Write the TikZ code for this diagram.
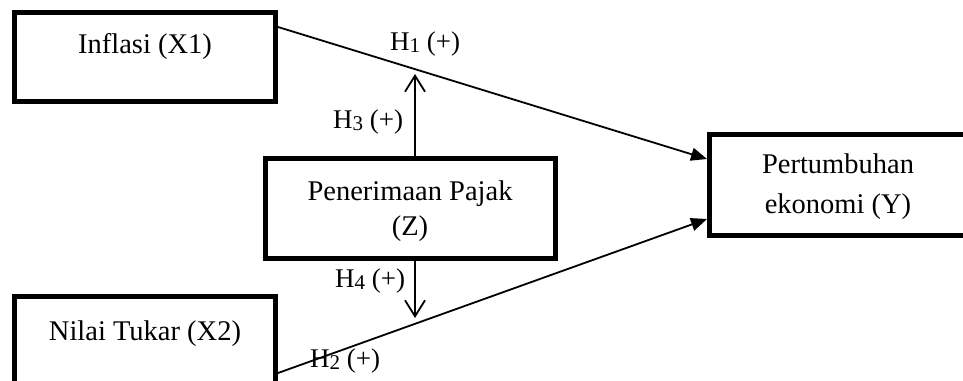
\documentclass[tikz,border=0pt]{standalone}
\usepackage{fontspec}
\setmainfont{Liberation Serif}
\usetikzlibrary{arrows.meta,calc}
\newcommand\hsub[1]{\raisebox{-2pt}{\fontsize{21}{21}\selectfont #1}}
\begin{document}
\begin{tikzpicture}[x=1pt,y=-1pt,
  box/.style={draw, line width=5pt, inner sep=0pt, outer sep=0pt, rectangle},
  txt/.style={font=\fontsize{28.5}{34}\selectfont, inner sep=0pt, anchor=base},
  hyp/.style={font=\fontsize{27}{32}\selectfont, inner sep=0pt, anchor=base west},
  link/.style={line width=1.8pt, -{Triangle[length=16pt,width=13pt]}},
  vlink/.style={line width=1.8pt, -{Straight Barb[length=16pt,width=20pt,line width=1.8pt]}}]
\useasboundingbox (0,0) rectangle (963,380);
\fill[white] (0,0) rectangle (963,380);
% boxes
\node[box, minimum width=261pt, minimum height=89pt] (x1) at (145,57) {};
\node[box, minimum width=261pt, minimum height=93pt] (x2) at (145,343) {};
\node[box, minimum width=290.5pt, minimum height=100pt] (z) at (410.25,208.5) {};
\node[box, minimum width=310.5pt, minimum height=101.5pt] (y) at (864.75,184.75) {};
% texts
\node[txt] (x1t) at (145,53) {Inflasi (X1)};
\node[txt] (x2t) at (145,340) {Nilai Tukar (X2)};
\node[txt] (zt1) at (410,200) {Penerimaan Pajak};
\node[txt] (zt2) at (410,235) {(Z)};
\node[txt] (yt1) at (838,173) {Pertumbuhan};
\node[txt] (yt2) at (838,213) {ekonomi (Y)};
% connectors
\draw[link] ($(x1.north east)+(2.5,14.5)$) -- ($(y.west)+(-2.5,-25.75)$);
\draw[link] ($(x2.north east)+(2.5,76.5)$) -- ($(y.west)+(-2.5,34.25)$);
\coordinate (h3tip) at (415,74);
\coordinate (h4tip) at (415,318);
\draw[vlink] ($(z.north)+(4.75,0)$) -- (h3tip);
\draw[vlink] ($(z.south)+(4.75,0)$) -- (h4tip);
% labels
\node[hyp] (h1) at (390,50) {H\hsub{1} (+)};
\node[hyp] (h3) at (333,128) {H\hsub{3} (+)};
\node[hyp] (h4) at (335,287) {H\hsub{4} (+)};
\node[hyp] (h2) at (310,367) {H\hsub{2} (+)};
\end{tikzpicture}
\end{document}
